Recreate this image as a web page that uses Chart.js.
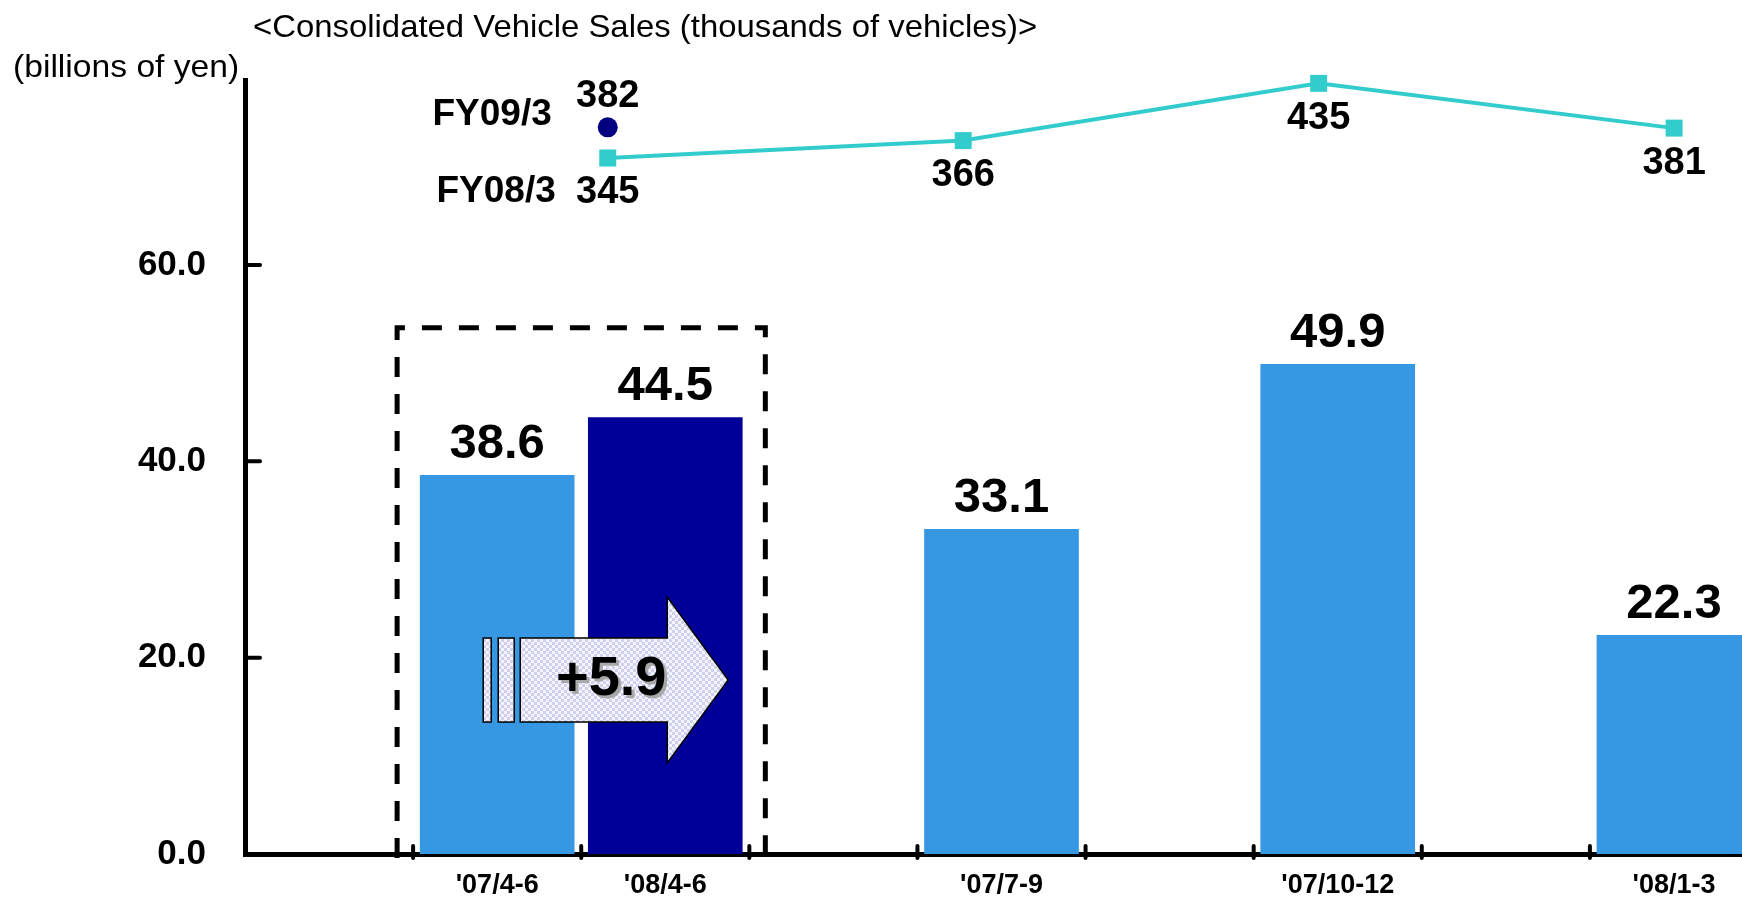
<!DOCTYPE html>
<html>
<head>
<meta charset="utf-8">
<script src="https://cdn.jsdelivr.net/npm/chart.js@4.4.0/dist/chart.umd.min.js"></script>
<style>
  body { margin: 0; background: #fff; overflow: hidden; width: 1742px; height: 899px; }
  #wrap { position: absolute; left: 0; top: 0; width: 1758px; height: 899px; }
  .hdr { position: absolute; white-space: nowrap; font-family: 'Liberation Sans', Arial, sans-serif;
         font-size: 32px; line-height: 32px; color: #000; transform-origin: left top; }
</style>
</head>
<body>
<div id="wrap"><canvas id="salesChart" width="1758" height="899"></canvas></div>
<div class="hdr" id="title" style="left:253px; top:10px;">&lt;Consolidated Vehicle Sales (thousands of vehicles)&gt;</div>
<div class="hdr" id="unit" style="left:13px; top:50px;">(billions of yen)</div>
<script>
// operating income by quarter (billions of yen), blanks are spacer slots
const xLabels = ['', "'07/4-6", "'08/4-6", '', "'07/7-9", '', "'07/10-12", '', "'08/1-3"];
const incomeValues = [null, 38.6, 44.5, null, 33.1, null, 49.9, null, 22.3];
const yTicks = [0, 20, 40, 60];

// consolidated vehicle sales (thousands), quarters 1..4
const fy08Sales = [345, 366, 435, 381];
const fy09Sales = [382];
const seriesNames = ['FY08/3', 'FY09/3'];
const changeLabel = '+5.9';

const lightBlue = '#3697E2';
const navy = '#000099';
const teal = '#33CCCC';
const FONT = "'Liberation Sans', Arial, sans-serif";

// squeeze header text to the width of the original
function fitWidth(id, w) {
  const el = document.getElementById(id);
  el.style.transform = 'scaleX(' + (w / el.offsetWidth) + ')';
}
fitWidth('title', 784);
fitWidth('unit', 226);

// light checked fill for the arrow
function arrowPattern(ctx) {
  const c = document.createElement('canvas');
  c.width = 6; c.height = 6;
  const p = c.getContext('2d');
  p.fillStyle = '#F4F4FC';
  p.fillRect(0, 0, 6, 6);
  p.fillStyle = '#CFCFEE';
  p.fillRect(0, 0, 3, 3);
  p.fillRect(3, 3, 3, 3);
  return ctx.createPattern(c, 'repeat');
}

const decorations = {
  id: 'decorations',
  afterDatasetsDraw(chart) {
    const ctx = chart.ctx;
    const x = chart.scales.x, y = chart.scales.y;
    const area = chart.chartArea;
    const slot = x.getPixelForValue(1) - x.getPixelForValue(0);
    ctx.save();

    // inward y ticks
    ctx.strokeStyle = '#000';
    ctx.lineWidth = 4;
    ctx.lineCap = 'round';
    yTicks.slice(1).forEach(v => {
      const py = y.getPixelForValue(v);
      ctx.beginPath();
      ctx.moveTo(area.left, py);
      ctx.lineTo(area.left + 15, py);
      ctx.stroke();
    });
    // x tick marks at slot edges
    for (let i = 1; i < xLabels.length; i++) {
      const px = x.getPixelForValue(i) - slot / 2;
      ctx.beginPath();
      ctx.moveTo(px, area.bottom - 8);
      ctx.lineTo(px, area.bottom + 4);
      ctx.stroke();
    }

    // dashed box round the year-on-year pair
    const bx1 = x.getPixelForValue(1) - slot / 2 - 16;
    const bx2 = x.getPixelForValue(2) + slot / 2 + 16;
    const by = y.getPixelForValue(53.6);
    ctx.lineCap = 'butt';
    ctx.lineWidth = 5;
    ctx.setLineDash([20, 17]);
    ctx.beginPath();
    ctx.moveTo(bx1, area.bottom + 4);
    ctx.lineTo(bx1, by);
    ctx.lineTo(bx2, by);
    ctx.lineTo(bx2, area.bottom + 4);
    ctx.stroke();
    ctx.setLineDash([]);

    // arrow with +5.9
    const mid = x.getPixelForValue(1) + slot / 2;
    const cy = y.getPixelForValue(17.72);
    ctx.fillStyle = arrowPattern(ctx);
    ctx.strokeStyle = '#000';
    ctx.lineWidth = 1.5;
    ctx.fillRect(mid - 98, cy - 42, 8, 84);
    ctx.strokeRect(mid - 98, cy - 42, 8, 84);
    ctx.fillRect(mid - 83, cy - 42, 16, 84);
    ctx.strokeRect(mid - 83, cy - 42, 16, 84);
    ctx.beginPath();
    ctx.moveTo(mid - 61, cy - 42);
    ctx.lineTo(mid + 86, cy - 42);
    ctx.lineTo(mid + 86, cy - 83);
    ctx.lineTo(mid + 147, cy);
    ctx.lineTo(mid + 86, cy + 83);
    ctx.lineTo(mid + 86, cy + 42);
    ctx.lineTo(mid - 61, cy + 42);
    ctx.closePath();
    ctx.fill();
    ctx.stroke();
    ctx.font = 'bold 56px ' + FONT;
    ctx.textAlign = 'center';
    ctx.textBaseline = 'middle';
    ctx.fillStyle = '#A8A8A8';
    ctx.fillText(changeLabel, mid + 33, cy + 3);
    ctx.fillStyle = '#000';
    ctx.fillText(changeLabel, mid + 30, cy);

    // bar value labels
    ctx.font = 'bold 49px ' + FONT;
    ctx.textBaseline = 'alphabetic';
    chart.getDatasetMeta(0).data.forEach((el, i) => {
      if (incomeValues[i] == null) return;
      ctx.fillText(incomeValues[i].toFixed(1), el.x, el.y - 17);
    });

    // vehicle sales labels
    ctx.font = 'bold 38px ' + FONT;
    ctx.textBaseline = 'middle';
    const p08 = chart.getDatasetMeta(1).data;
    p08.forEach((el, i) => ctx.fillText(String(fy08Sales[i]), el.x, el.y + 35));
    const p09 = chart.getDatasetMeta(2).data;
    p09.forEach((el, i) => ctx.fillText(String(fy09Sales[i]), el.x, el.y - 31));
    ctx.font = 'bold 37px ' + FONT;
    ctx.textAlign = 'right';
    ctx.fillText(seriesNames[1], p09[0].x - 56, p09[0].y - 13);
    ctx.fillText(seriesNames[0], p08[0].x - 52, p08[0].y + 34);
    ctx.restore();
  }
};

new Chart(document.getElementById('salesChart'), {
  type: 'bar',
  data: {
    labels: xLabels,
    datasets: [
      {
        label: 'Operating income',
        data: incomeValues,
        backgroundColor: incomeValues.map((v, i) => i === 2 ? navy : lightBlue),
        grouped: false,
        barPercentage: 0.92,
        categoryPercentage: 1.0,
        xAxisID: 'x',
        yAxisID: 'y',
        order: 2
      },
      {
        type: 'line',
        label: seriesNames[0],
        data: fy08Sales.map((v, i) => ({ x: i + 1, y: v })),
        borderColor: teal,
        borderWidth: 4,
        pointStyle: 'rect',
        pointRadius: 12,
        pointBackgroundColor: teal,
        pointBorderWidth: 0,
        clip: false,
        xAxisID: 'x2',
        yAxisID: 'y2',
        order: 1
      },
      {
        type: 'line',
        label: seriesNames[1],
        data: fy09Sales.map((v, i) => ({ x: i + 1, y: v })),
        showLine: false,
        pointStyle: 'circle',
        pointRadius: 10,
        pointBackgroundColor: '#000080',
        pointBorderWidth: 0,
        clip: false,
        xAxisID: 'x2',
        yAxisID: 'y2',
        order: 0
      }
    ]
  },
  options: {
    responsive: false,
    animation: false,
    layout: { autoPadding: false, padding: { top: 80, left: 0, right: 0, bottom: 0 } },
    plugins: { legend: { display: false }, tooltip: { enabled: false } },
    scales: {
      x: {
        position: 'bottom',
        grid: { display: false, drawTicks: false },
        border: { display: true, color: '#000', width: 5 },
        ticks: { color: '#000', padding: 15, font: { family: FONT, size: 27, weight: 'bold' }, autoSkip: false, maxRotation: 0 },
        afterFit: s => { s.height = 45; s.paddingLeft = 0; s.paddingRight = 0; }
      },
      y: {
        min: 0,
        max: 78.84,
        grid: { display: false, drawTicks: false },
        border: { display: true, color: '#000', width: 5 },
        ticks: {
          stepSize: 20,
          includeBounds: false,
          padding: 39,
          color: '#000',
          font: { family: FONT, size: 35, weight: 'bold' },
          callback: v => Number(v).toFixed(1)
        },
        afterFit: s => { s.width = 245; s.paddingTop = 0; s.paddingBottom = 0; }
      },
      x2: { type: 'linear', display: false, offset: false, min: -0.0205, max: 4.236 },
      y2: { type: 'linear', display: false, min: -493.6, max: 439 }
    }
  },
  plugins: [decorations]
});
</script>
</body>
</html>
